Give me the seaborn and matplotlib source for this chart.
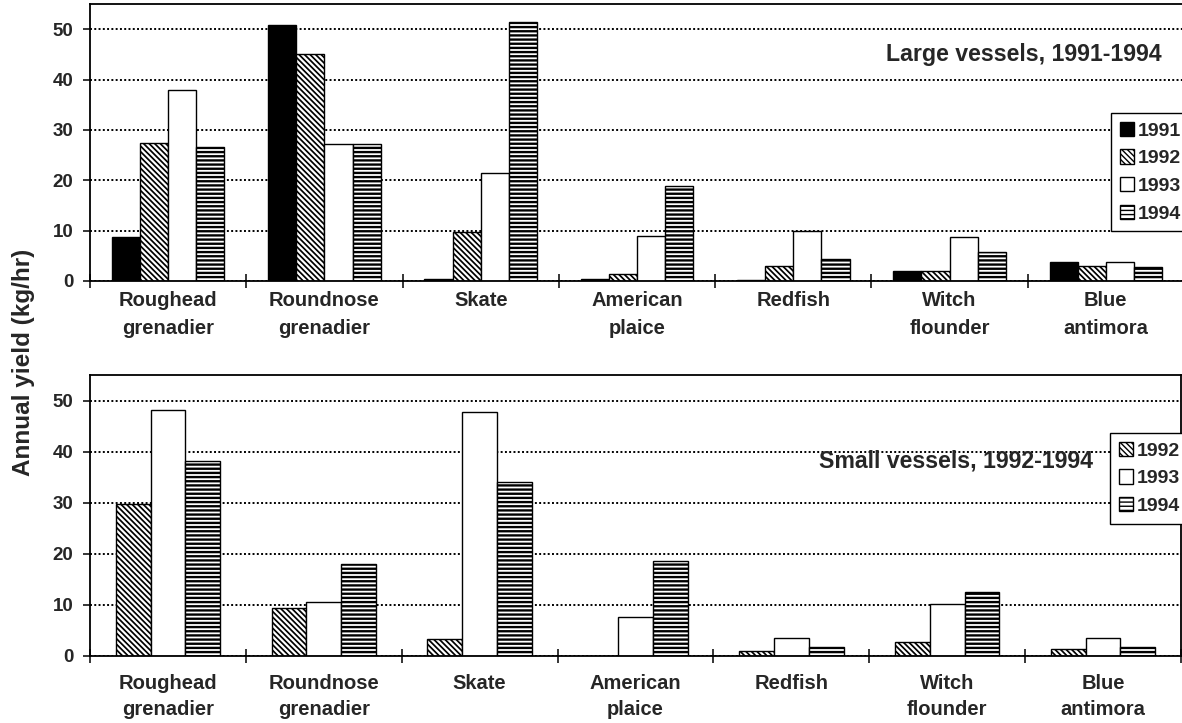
import numpy as np
import pandas as pd
import matplotlib
matplotlib.use("Agg")
import matplotlib.pyplot as plt
import seaborn as sns
from matplotlib.patches import Patch

# ---------------- data ----------------
species = ["Roughead\ngrenadier", "Roundnose\ngrenadier", "Skate", "American\nplaice",
           "Redfish", "Witch\nflounder", "Blue\nantimora"]
large_1991 = [8.8, 50.9, 0.3, 0.4, 0.1, 2.0, 3.8]
large_1992 = [27.4, 45.1, 9.7, 1.3, 3.0, 1.9, 3.0]
large_1993 = [38.0, 27.2, 21.5, 9.0, 10.0, 8.8, 3.7]
large_1994 = [26.6, 27.2, 51.5, 18.9, 4.4, 5.7, 2.7]
small_1992 = [29.8, 9.3, 3.2, 0.0, 0.8, 2.6, 1.3]
small_1993 = [48.1, 10.5, 47.8, 7.5, 3.5, 10.1, 3.5]
small_1994 = [38.1, 17.9, 34.1, 18.5, 1.6, 12.5, 1.6]
years_large = ["1991", "1992", "1993", "1994"]
years_small = ["1992", "1993", "1994"]
y_ticks = [0, 10, 20, 30, 40, 50]
title_large = "Large vessels, 1991-1994"
title_small = "Small vessels, 1992-1994"
y_label = "Annual yield (kg/hr)"

# ---------------- style ----------------
sns.set_style("ticks")
plt.rcParams['font.family'] = ['Liberation Sans', 'DejaVu Sans']
plt.rcParams['font.weight'] = 'bold'
plt.rcParams['hatch.color'] = 'black'

face = {"1991": "black", "1992": "white", "1993": "white", "1994": "white"}
hatch = {"1991": "", "1992": "\\\\\\\\\\\\", "1993": "", "1994": "----"}
hlw = {"1991": 1.0, "1992": 1.25, "1993": 1.0, "1994": 1.7}

W, H = 1182, 723
fig = plt.figure(figsize=(W / 100, H / 100), dpi=100)

def fx(px):
    return px / W

def fy(py):
    return 1 - py / H

ax1 = fig.add_axes([fx(90), fy(281), fx(1184 - 90), (281 - 4) / H])
ax2 = fig.add_axes([fx(90), fy(655.5), fx(1181 - 90), (655.5 - 375) / H])

df_large = pd.DataFrame({
    "species": species * 4,
    "year": sum([[y] * len(species) for y in years_large], []),
    "value": large_1991 + large_1992 + large_1993 + large_1994,
})
df_small = pd.DataFrame({
    "species": species * 3,
    "year": sum([[y] * len(species) for y in years_small], []),
    "value": small_1992 + small_1993 + small_1994,
})

FS = 13.5
FX = 14.5

def draw(ax, df, years, width, title, title_xy, leg_xy, xpad, lsp):
    sns.barplot(data=df, x="species", y="value", hue="year", hue_order=years,
                order=species, palette=face, saturation=1, width=width,
                edgecolor="black", linewidth=1.0, legend=False, ax=ax,
                errorbar=None)
    for cont, yr in zip(ax.containers, years):
        for bar in cont:
            bar.set_hatch(hatch[yr])
            if hasattr(bar, "set_hatch_linewidth"):
                bar.set_hatch_linewidth(hlw[yr])
    ax.set_ylim(0, 55)
    ax.set_xlim(-0.5, len(species) - 0.5)
    ax.set_yticks(y_ticks)
    ax.set_yticklabels([str(t) for t in y_ticks], fontsize=FS, fontweight='bold')
    ax.tick_params(axis='y', direction='out', length=5, width=1.3, pad=7)
    ax.set_xticks(range(len(species)))
    ax.set_xticklabels(species, fontsize=FX, fontweight='bold', linespacing=lsp)
    ax.tick_params(axis='x', which='major', length=0, pad=xpad)
    ax.set_xticks(np.arange(-0.5, len(species), 1.0), minor=True)
    ax.tick_params(axis='x', which='minor', direction='inout', length=10, width=1.3)
    ax.set_xlabel("")
    ax.set_ylabel("")
    ax.set_axisbelow(True)
    ax.yaxis.grid(True, color='black', linestyle=(0, (1, 1.2)), linewidth=1.4)
    for s in ax.spines.values():
        s.set_visible(True)
        s.set_linewidth(1.3)
        s.set_color('black')
    fig.text(title_xy[0], title_xy[1], title, ha='right', va='center',
             fontsize=16.7, fontweight='bold')
    handles = [Patch(facecolor=face[y], edgecolor='black', hatch=hatch[y], linewidth=1.0)
               for y in years]
    leg = fig.legend(handles, years, loc='upper left', bbox_to_anchor=leg_xy,
                     bbox_transform=fig.transFigure, frameon=True, fancybox=False,
                     framealpha=1, edgecolor='black',
                     prop={'weight': 'bold', 'size': 14},
                     handlelength=0.75, handleheight=0.75, handletextpad=0.2,
                     labelspacing=0.5, borderpad=0.45, borderaxespad=0)
    leg.get_frame().set_linewidth(1.0)

draw(ax1, df_large, years_large, 0.72, title_large, (fx(1162), fy(55)),
     (fx(1111), fy(113)), 7.5, 1.6)
draw(ax2, df_small, years_small, 0.67, title_small, (fx(1093), fy(461)),
     (fx(1110), fy(433)), 13.5, 1.45)

fig.text(fx(24), fy(362), y_label, rotation=90, ha='center', va='center',
         fontsize=17.5, fontweight='bold')

fig.savefig("out.png", dpi=100)
